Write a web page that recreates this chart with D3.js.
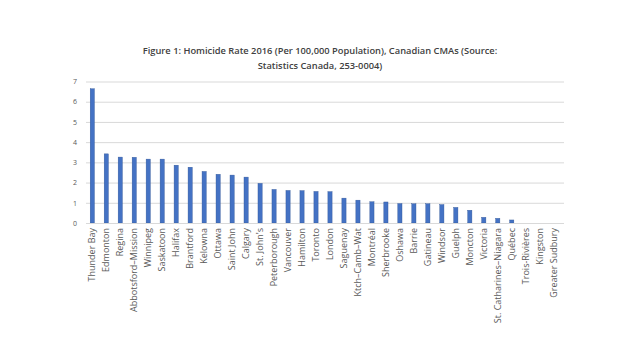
<!DOCTYPE html>
<html><head><meta charset="utf-8">
<script src="https://cdn.jsdelivr.net/npm/d3@7"></script>
<style>body{margin:0;background:#fff}svg{display:block}</style>
</head><body><svg id="c" width="640" height="360"></svg>
<script>
const titleLines = ["Figure 1: Homicide Rate 2016 (Per 100,000 Population), Canadian CMAs (Source:", "Statistics Canada, 253-0004)"];
const cities = ["Thunder  Bay","Edmonton","Regina","Abbotsford–Mission","Winnipeg","Saskatoon","Halifax","Brantford","Kelowna","Ottawa","Saint John","Calgary","St. John's","Peterborough","Vancouver","Hamilton","Toronto","London","Saguenay","Ktch–Camb–Wat","Montréal","Sherbrooke","Oshawa","Barrie","Gatineau","Windsor","Guelph","Moncton","Victoria","St. Catharines–Niagara","Québec","Trois-Rivières","Kingston","Greater Sudbury"];
const rates = [6.64,3.42,3.26,3.25,3.16,3.16,2.86,2.76,2.55,2.41,2.37,2.27,1.96,1.66,1.61,1.6,1.56,1.55,1.23,1.13,1.05,1.04,0.96,0.95,0.95,0.91,0.77,0.63,0.28,0.23,0.15,0,0,0];
const yTicks = [0,1,2,3,4,5,6,7];

const svg = d3.select("#c");
const m = {l:86, r:80, t:81.5, b:137};
const W = 640, H = 360;
const x = d3.scaleBand().domain(cities).range([m.l, W-m.r]).paddingInner(0.7).paddingOuter(0.3);
const y = d3.scaleLinear().domain([0,7]).range([H-m.b, m.t]);

const t = svg.append("text").attr("x", 320).attr("text-anchor","middle")
  .attr("font-family","Open Sans").attr("font-size",9.3).attr("font-weight",600).attr("fill","#404040");
titleLines.forEach((s,i)=> t.append("tspan").attr("x",320).attr("y",54+i*15).text(s));

const ya = svg.append("g").attr("transform",`translate(${m.l},0)`)
  .call(d3.axisLeft(y).tickValues(yTicks).tickSize(-(W-m.l-m.r+4)).tickPadding(9).tickFormat(d3.format("d")));
ya.select(".domain").remove();
ya.selectAll(".tick line").attr("stroke","#d9d9d9").attr("stroke-width",1);
ya.selectAll(".tick text").attr("font-family","Open Sans").attr("font-size",7).attr("fill","#595959");

svg.append("g").selectAll("rect").data(cities).join("rect")
  .attr("x", d=>x(d)).attr("width", x.bandwidth())
  .attr("y", (d,i)=>y(rates[i])).attr("height",(d,i)=>y(0)-y(rates[i]))
  .attr("fill","#4472c4").attr("stroke","#2f5597").attr("stroke-width",0.4);

const xa = svg.append("g").attr("transform",`translate(0,${y(0)})`)
  .call(d3.axisBottom(x).tickSize(0).tickPadding(4));
xa.select(".domain").attr("stroke","#d9d9d9");
xa.selectAll(".tick text").attr("font-family","Open Sans").attr("font-size",9).attr("fill","#595959")
  .attr("text-anchor","end").attr("transform","rotate(-90)").attr("dx","-5").attr("dy","0.34em").attr("x",0).attr("y",0);
</script></body></html>
